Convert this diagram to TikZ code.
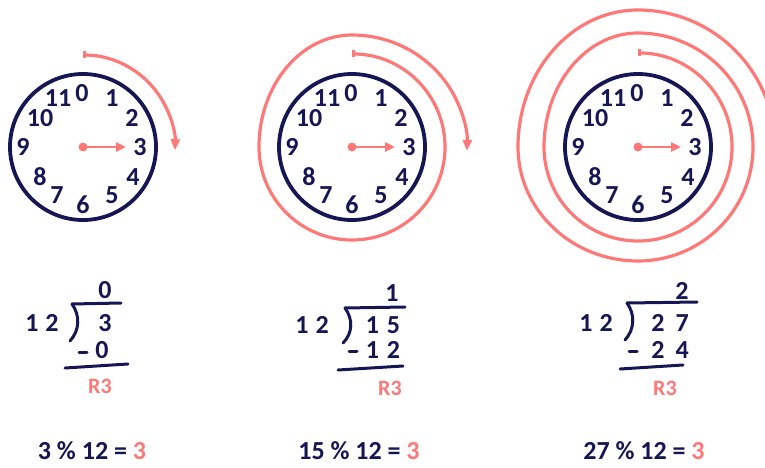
\documentclass[tikz,border=0pt]{standalone}
\usepackage{fontspec}
\setmainfont{Carlito}
\usetikzlibrary{arrows.meta}
\definecolor{navy}{RGB}{22,22,84}
\definecolor{salm}{RGB}{255,120,120}
\begin{document}
\begin{tikzpicture}[x=1pt,y=1pt,
  rim/.style={draw=navy,line width=3.8pt},
  spiral/.style={draw=salm,line width=3.2pt,{Bar[width=7pt,line width=2.5pt]}-{Triangle[length=11pt,width=9pt]}},
  hand/.style={draw=salm,line width=2.8pt,-{Triangle[length=10pt,width=9pt]}},
  num/.style={text=navy,font=\fontsize{26}{26}\selectfont\bfseries,inner sep=0pt},
  rem/.style={text=salm,font=\fontsize{22}{22}\selectfont\bfseries,inner sep=0pt},
  eqn/.style={text=navy,font=\fontsize{26}{26}\selectfont\bfseries,inner sep=0pt},
  rule/.style={draw=navy,line width=3pt,line cap=round}]
\useasboundingbox (0,0) rectangle (765,-468);
\begin{scope}
\clip (0,0) rectangle (765,-468);
\coordinate (c1) at (83,-147);
\coordinate (c2) at (352,-147);
\coordinate (c3) at (638,-147);
\foreach \c in {c1,c2,c3}{
  \draw[rim] (\c) circle[radius=73];
  \foreach \n/\dx/\dy in {0/-1/54,1/29/49,2/49/29,3/57/0,4/50/-30,5/29/-48,6/0/-58,7/-26/-48,8/-43/-30,9/-60/0,10/-43/29,11/-25/49}
    \node[num] (\c-n\n) at ([shift={(\dx,\dy)}]\c) {\n};
  \fill[salm] (\c) circle[radius=4.5];
  \coordinate (\c-tip) at ([xshift=43]\c);
  \draw[hand] (\c) -- (\c-tip);
}
% spirals
\draw[spiral] ([yshift=92]c1) arc[start angle=90,end angle=-2,radius=92];
\draw[spiral] ([yshift=93]c2) arc[start angle=90,end angle=-180,radius=93]
  arc[start angle=180,end angle=90,x radius=93,y radius=112]
  arc[start angle=90,end angle=-2,x radius=115,y radius=112];
\draw[spiral] ([yshift=94]c3) arc[start angle=90,end angle=-180,radius=94]
  arc[start angle=180,end angle=90,x radius=94,y radius=114]
  arc[start angle=90,end angle=-90,x radius=115,y radius=114]
  arc[start angle=270,end angle=180,x radius=120,y radius=114]
  arc[start angle=180,end angle=90,x radius=120,y radius=137]
  arc[start angle=90,end angle=-2,radius=137];
% division 1
\node[num] (q1) at (105,-290) {0};
\draw[rule] (72,-304) -- (121,-303);
\draw[rule] (72,-304) .. controls (80,-315) and (80,-330) .. (70,-341);
\node[num] (d1) at (42,-323) {1\hspace{7pt}2};
\node[num] (v1) at (105,-323) {3};
\draw[rule] (79,-352) -- (87,-352);
\node[num] (s1) at (102,-350) {0};
\draw[rule] (65,-368) -- (128,-364);
\node[rem] (r1) at (100,-386) {R3};
% division 2
\node[num] (q2) at (392,-293) {1};
\draw[rule] (345,-308) -- (405,-307);
\draw[rule] (345,-308) .. controls (353,-319) and (353,-333) .. (343,-343);
\node[num] (d2) at (312,-325) {1\hspace{7pt}2};
\node[num] (v2) at (383,-325) {1\hspace{8pt}5};
\draw[rule] (349,-351) -- (357,-351);
\node[num] (s2) at (383,-350) {1\hspace{8pt}2};
\draw[rule] (338,-370) -- (403,-366);
\node[rem] (r2) at (390,-388) {R3};
% division 3
\node[num] (q3) at (682,-291) {2};
\draw[rule] (627,-303) -- (697,-302);
\draw[rule] (627,-303) .. controls (635,-314) and (635,-329) .. (625,-340);
\node[num] (d3) at (596,-323) {1\hspace{7pt}2};
\node[num] (v3) at (670,-323) {2\hspace{11pt}7};
\draw[rule] (629,-351) -- (637,-351);
\node[num] (s3) at (670,-350) {2\hspace{11pt}4};
\draw[rule] (620,-369) -- (683,-365);
\node[rem] (r3) at (665,-388) {R3};
% equations
\node[eqn] (e1) at (92,-451) {3 \% 12 = \textcolor{salm}{3}};
\node[eqn] (e2) at (359,-451) {15 \% 12 = \textcolor{salm}{3}};
\node[eqn] (e3) at (644,-451) {27 \% 12 = \textcolor{salm}{3}};
\end{scope}
\end{tikzpicture}
\end{document}
